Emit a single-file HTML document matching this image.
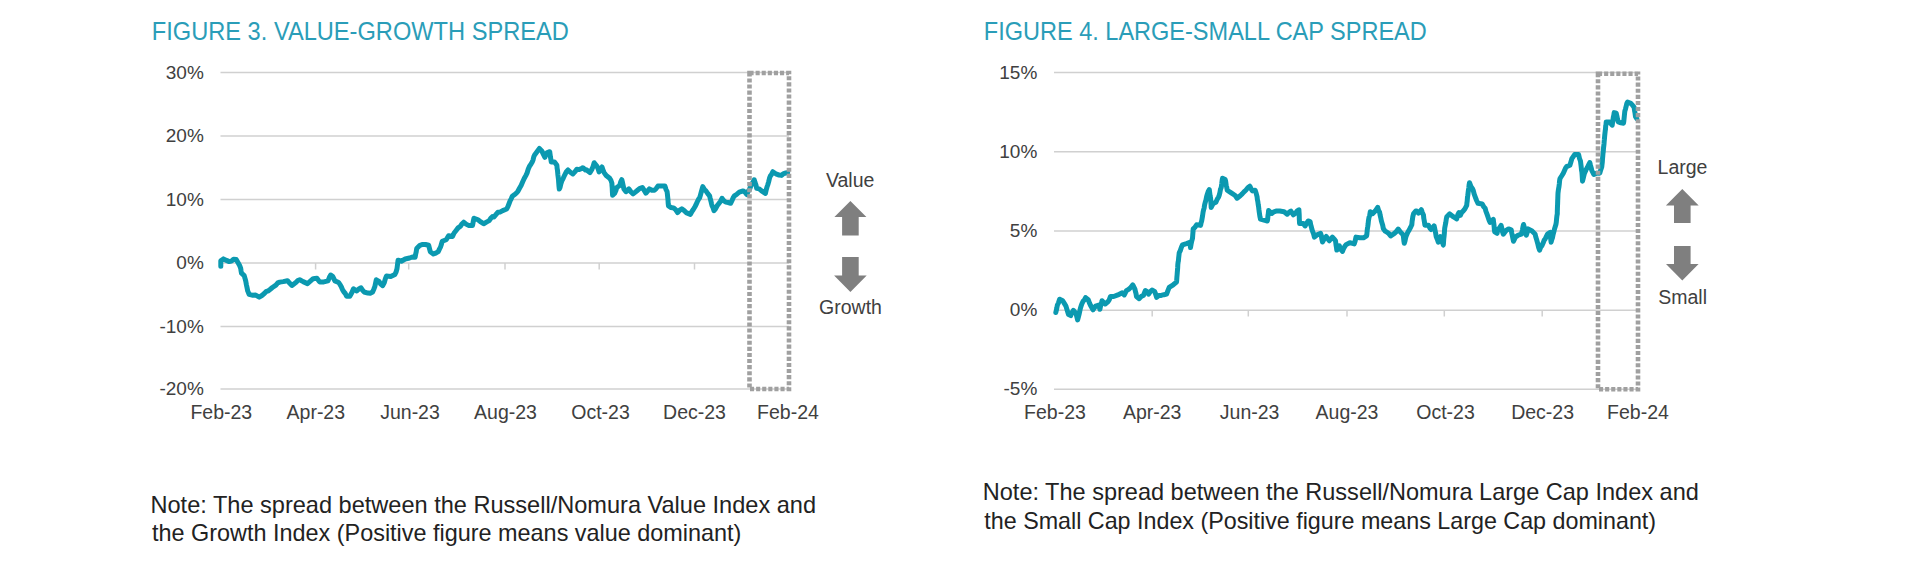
<!DOCTYPE html>
<html><head><meta charset="utf-8"><style>
html,body{margin:0;padding:0;background:#fff;width:1920px;height:565px;overflow:hidden}
svg{display:block}
text{font-family:"Liberation Sans",sans-serif}
</style></head><body>
<svg width="1920" height="565" viewBox="0 0 1920 565">
<rect width="1920" height="565" fill="#fff"/>

<text x="151.8" y="39.5" font-size="25" fill="#2a9db8" textLength="417" lengthAdjust="spacingAndGlyphs">FIGURE 3. VALUE-GROWTH SPREAD</text>
<text x="983.8" y="39.5" font-size="25" fill="#2a9db8" textLength="443" lengthAdjust="spacingAndGlyphs">FIGURE 4. LARGE-SMALL CAP SPREAD</text>
<line x1="220.5" y1="72.5" x2="789" y2="72.5" stroke="#d0d0d0" stroke-width="1.5"/>
<text x="203.8" y="78.6" font-size="19" fill="#404040" text-anchor="end">30%</text>
<line x1="220.5" y1="136" x2="789" y2="136" stroke="#d0d0d0" stroke-width="1.5"/>
<text x="203.8" y="142.1" font-size="19" fill="#404040" text-anchor="end">20%</text>
<line x1="220.5" y1="199.5" x2="789" y2="199.5" stroke="#d0d0d0" stroke-width="1.5"/>
<text x="203.8" y="205.6" font-size="19" fill="#404040" text-anchor="end">10%</text>
<line x1="220.5" y1="263" x2="789" y2="263" stroke="#d0d0d0" stroke-width="1.5"/>
<text x="203.8" y="269.1" font-size="19" fill="#404040" text-anchor="end">0%</text>
<line x1="220.5" y1="326.5" x2="789" y2="326.5" stroke="#d0d0d0" stroke-width="1.5"/>
<text x="203.8" y="332.6" font-size="19" fill="#404040" text-anchor="end">-10%</text>
<line x1="220.5" y1="389" x2="789" y2="389" stroke="#d0d0d0" stroke-width="1.5"/>
<text x="203.8" y="395.1" font-size="19" fill="#404040" text-anchor="end">-20%</text>
<line x1="315.6" y1="263" x2="315.6" y2="269.5" stroke="#d0d0d0" stroke-width="1.5"/>
<line x1="408.7" y1="263" x2="408.7" y2="269.5" stroke="#d0d0d0" stroke-width="1.5"/>
<line x1="505" y1="263" x2="505" y2="269.5" stroke="#d0d0d0" stroke-width="1.5"/>
<line x1="599.2" y1="263" x2="599.2" y2="269.5" stroke="#d0d0d0" stroke-width="1.5"/>
<line x1="694.5" y1="263" x2="694.5" y2="269.5" stroke="#d0d0d0" stroke-width="1.5"/>
<text x="221.3" y="419.3" font-size="19.5" fill="#404040" text-anchor="middle">Feb-23</text>
<text x="315.8" y="419.3" font-size="19.5" fill="#404040" text-anchor="middle">Apr-23</text>
<text x="410" y="419.3" font-size="19.5" fill="#404040" text-anchor="middle">Jun-23</text>
<text x="505.5" y="419.3" font-size="19.5" fill="#404040" text-anchor="middle">Aug-23</text>
<text x="600.5" y="419.3" font-size="19.5" fill="#404040" text-anchor="middle">Oct-23</text>
<text x="694.5" y="419.3" font-size="19.5" fill="#404040" text-anchor="middle">Dec-23</text>
<text x="788" y="419.3" font-size="19.5" fill="#404040" text-anchor="middle">Feb-24</text>
<line x1="1054" y1="72.5" x2="1638" y2="72.5" stroke="#d0d0d0" stroke-width="1.5"/>
<text x="1037.3" y="78.6" font-size="19" fill="#404040" text-anchor="end">15%</text>
<line x1="1054" y1="151.8" x2="1638" y2="151.8" stroke="#d0d0d0" stroke-width="1.5"/>
<text x="1037.3" y="157.9" font-size="19" fill="#404040" text-anchor="end">10%</text>
<line x1="1054" y1="231.1" x2="1638" y2="231.1" stroke="#d0d0d0" stroke-width="1.5"/>
<text x="1037.3" y="237.2" font-size="19" fill="#404040" text-anchor="end">5%</text>
<line x1="1054" y1="310.3" x2="1638" y2="310.3" stroke="#d0d0d0" stroke-width="1.5"/>
<text x="1037.3" y="316.40000000000003" font-size="19" fill="#404040" text-anchor="end">0%</text>
<line x1="1054" y1="389.3" x2="1638" y2="389.3" stroke="#d0d0d0" stroke-width="1.5"/>
<text x="1037.3" y="395.40000000000003" font-size="19" fill="#404040" text-anchor="end">-5%</text>
<line x1="1152.2" y1="310.3" x2="1152.2" y2="316.5" stroke="#d0d0d0" stroke-width="1.5"/>
<line x1="1248.3" y1="310.3" x2="1248.3" y2="316.5" stroke="#d0d0d0" stroke-width="1.5"/>
<line x1="1347" y1="310.3" x2="1347" y2="316.5" stroke="#d0d0d0" stroke-width="1.5"/>
<line x1="1444.3" y1="310.3" x2="1444.3" y2="316.5" stroke="#d0d0d0" stroke-width="1.5"/>
<line x1="1542.2" y1="310.3" x2="1542.2" y2="316.5" stroke="#d0d0d0" stroke-width="1.5"/>
<text x="1055" y="419.3" font-size="19.5" fill="#404040" text-anchor="middle">Feb-23</text>
<text x="1152.2" y="419.3" font-size="19.5" fill="#404040" text-anchor="middle">Apr-23</text>
<text x="1249.6" y="419.3" font-size="19.5" fill="#404040" text-anchor="middle">Jun-23</text>
<text x="1347" y="419.3" font-size="19.5" fill="#404040" text-anchor="middle">Aug-23</text>
<text x="1445.5" y="419.3" font-size="19.5" fill="#404040" text-anchor="middle">Oct-23</text>
<text x="1542.6" y="419.3" font-size="19.5" fill="#404040" text-anchor="middle">Dec-23</text>
<text x="1638" y="419.3" font-size="19.5" fill="#404040" text-anchor="middle">Feb-24</text>
<polyline points="220.8,266.2 220.8,263.2 220.8,260.8 223.4,258.9 226.5,260.4 229.2,261.6 231.4,261.1 233.6,259.3 236.2,259.5 238.5,263.5 239.6,265.4 240.7,268.4 241.1,271.0 241.5,273.2 244.2,275.7 245.3,279.4 245.8,281.4 246.4,284.7 247.1,287.9 247.7,290.9 249.1,294.3 252.2,295.2 255.7,295.1 259.2,297.1 261.9,295.5 264.0,293.8 266.0,291.7 268.1,290.9 270.3,289.2 272.4,287.5 275.9,285.1 277.8,282.9 279.8,282.1 283.2,281.6 287.5,280.7 290.0,283.6 291.9,285.5 293.9,284.0 295.8,282.6 297.8,280.5 299.7,279.7 303.1,281.6 307.5,283.6 310.9,280.7 313.2,278.7 316.9,278.2 319.6,281.9 323.8,281.9 328.0,280.9 329.4,277.3 330.7,275.0 332.8,276.6 334.9,280.9 338.7,282.5 340.0,284.5 341.3,286.7 342.6,289.9 344.0,292.0 345.3,293.5 346.6,296.3 349.8,296.3 351.9,292.5 353.5,288.8 356.7,291.0 358.8,288.9 361.0,287.8 362.5,290.1 364.1,292.0 367.9,293.1 370.2,293.3 372.6,292.0 373.7,289.5 374.8,286.7 375.6,283.1 376.3,279.8 379.0,281.4 380.9,284.3 382.7,285.6 384.3,282.5 385.4,278.6 386.4,276.1 390.7,276.6 394.9,274.5 396.0,272.2 397.0,268.7 397.4,265.5 397.8,262.4 398.1,260.2 401.3,261.2 405.2,259.0 409.6,258.0 412.3,257.0 415.1,257.2 415.7,254.0 416.2,251.9 416.7,248.5 419.9,245.3 422.7,244.4 425.5,244.5 428.7,245.3 429.5,248.6 430.3,251.7 433.4,254.0 435.8,253.1 438.2,251.7 439.4,249.1 440.6,246.9 441.4,244.2 442.2,241.3 446.2,239.7 448.6,235.7 452.5,236.5 454.1,233.0 455.7,231.0 458.1,227.9 460.5,226.2 462.1,223.7 463.7,222.2 466.1,224.1 468.5,225.4 472.5,225.4 473.0,222.9 473.5,220.3 474.0,218.2 478.0,219.8 480.8,221.9 483.6,223.8 486.4,222.1 489.2,220.6 490.8,218.3 492.4,216.6 494.0,217.0 496.3,214.2 498.0,212.2 500.4,211.9 502.7,210.6 506.7,209.0 507.9,206.6 509.1,203.5 510.2,200.7 511.2,198.8 512.3,196.3 514.3,194.8 516.3,193.1 517.9,191.3 519.5,188.3 521.1,185.5 522.6,182.0 524.2,178.5 525.8,175.6 527.0,173.2 528.2,169.2 529.5,166.2 530.9,164.3 532.2,162.1 533.0,160.1 533.8,156.7 534.6,154.9 537.0,151.7 539.4,148.5 541.8,150.9 543.3,154.1 544.9,157.3 546.1,154.2 547.3,152.5 549.7,151.7 550.1,154.6 550.5,157.3 550.9,159.6 551.3,162.1 554.5,162.1 556.9,165.3 557.1,168.2 557.4,169.7 557.7,172.7 557.9,175.0 558.2,177.3 558.5,179.6 558.7,182.7 559.0,186.5 559.3,189.1 560.1,187.2 560.9,183.8 561.7,181.2 563.2,178.3 564.8,174.8 566.4,171.7 568.0,170.0 570.4,172.3 572.8,174.0 574.8,171.9 576.8,169.2 579.2,169.6 581.6,168.4 582.8,167.7 585.5,170.0 586.4,169.8 589.9,172.6 592.0,169.1 593.1,166.4 594.2,162.7 597.0,166.2 598.1,168.7 599.1,171.9 600.5,169.3 602.0,167.0 603.0,170.1 604.1,172.6 606.2,175.5 609.7,178.3 610.8,180.0 611.9,183.2 612.0,185.6 612.2,187.5 612.3,189.9 612.4,192.2 612.6,195.3 614.7,193.2 615.8,190.8 616.8,187.5 619.7,185.4 620.7,181.9 621.8,179.7 622.5,182.4 623.2,185.7 623.9,188.9 626.0,191.7 628.9,188.9 631.0,192.0 633.1,193.9 636.7,191.0 639.5,188.6 642.3,187.5 644.1,190.2 645.9,193.2 647.6,191.1 649.4,188.9 651.9,190.2 654.4,190.3 656.1,188.7 657.9,186.1 662.2,186.1 665.0,186.1 666.0,189.5 667.1,191.7 667.4,194.2 667.7,197.3 668.0,200.0 668.2,203.7 668.5,205.9 671.1,207.6 673.6,207.9 675.6,209.6 677.6,212.5 679.7,210.2 681.8,208.9 683.9,210.3 686.1,212.6 690.4,214.4 691.9,211.5 693.3,209.5 694.8,207.0 696.0,204.8 697.2,202.0 698.5,199.3 699.7,197.7 700.5,194.8 701.3,191.9 702.0,189.5 702.8,186.6 704.4,189.5 705.9,190.9 707.8,193.7 709.6,195.9 710.2,198.4 710.9,201.0 711.5,203.6 712.1,205.8 713.0,207.5 714.0,210.7 715.5,208.9 717.1,205.8 718.7,203.7 720.4,201.4 722.0,198.3 723.9,200.7 725.7,202.1 728.2,202.5 730.7,203.3 731.9,200.7 733.2,197.7 734.4,195.9 736.9,194.2 739.3,192.2 743.1,190.9 744.9,192.1 746.8,194.6 748.0,191.5 749.3,189.7 750.5,186.7 751.7,184.2 753.0,182.2 754.2,179.8 755.0,182.4 755.9,184.8 756.7,188.4 759.2,188.9 761.6,190.9 765.4,193.4 766.2,189.9 767.0,187.0 767.8,184.7 768.7,181.6 769.5,178.2 770.3,176.1 771.5,174.5 772.8,171.7 776.5,174.2 779.0,175.0 781.5,175.4 783.6,173.6 785.8,173.0 787.6,172.6" fill="none" stroke="#0b99b0" stroke-width="5" stroke-linejoin="round" stroke-linecap="round"/>
<polyline points="1055.8,312.5 1056.4,309.9 1056.9,307.6 1057.4,305.0 1058.5,302.8 1059.6,299.2 1062.7,300.8 1064.3,303.4 1065.9,306.1 1066.8,308.9 1067.7,311.9 1068.6,314.6 1070.7,315.6 1072.0,312.5 1073.4,310.3 1076.0,313.5 1076.8,316.7 1077.6,319.9 1078.3,317.3 1079.0,314.7 1079.7,311.4 1080.4,308.3 1081.1,306.1 1081.8,304.0 1083.1,301.2 1084.3,300.2 1085.6,297.6 1088.2,299.7 1089.5,303.2 1090.9,306.1 1093.0,309.8 1095.6,306.1 1098.8,305.0 1099.9,309.3 1100.6,305.7 1101.3,304.4 1102.0,300.8 1105.2,304.0 1107.9,301.8 1109.2,299.9 1110.5,296.5 1113.7,296.5 1117.9,294.9 1122.2,292.8 1124.3,294.9 1126.4,290.7 1128.6,289.4 1130.7,287.5 1132.8,284.9 1134.9,289.1 1135.5,291.8 1136.0,293.5 1136.5,296.5 1139.2,298.7 1141.3,296.3 1143.4,295.5 1144.4,293.0 1145.4,290.5 1147.0,291.6 1148.6,294.1 1150.3,291.6 1152.0,290.1 1154.6,291.4 1155.6,294.0 1156.6,297.4 1158.9,295.6 1161.2,295.4 1163.9,294.7 1166.6,294.1 1167.9,290.6 1169.2,287.4 1173.2,284.8 1176.5,282.1 1176.7,280.2 1176.9,277.2 1177.1,274.9 1177.3,272.2 1177.5,270.0 1177.7,267.2 1177.8,264.8 1178.1,262.1 1178.4,260.9 1178.6,258.5 1178.9,255.8 1179.2,252.9 1180.3,250.6 1181.4,247.3 1182.5,244.9 1186.5,243.6 1189.8,242.3 1190.1,244.5 1190.5,247.6 1191.1,244.1 1191.8,240.7 1192.5,238.3 1192.7,235.6 1193.0,231.8 1193.2,228.9 1194.9,227.4 1196.6,224.8 1200.6,225.4 1201.1,222.8 1201.6,221.2 1202.1,218.5 1202.6,215.5 1203.1,212.0 1203.6,209.7 1204.1,208.2 1204.6,204.8 1205.3,202.1 1205.9,200.3 1206.6,196.7 1207.3,194.2 1208.3,191.2 1209.3,189.6 1209.7,192.7 1210.1,195.8 1210.6,198.2 1210.8,200.9 1211.0,203.7 1211.2,207.5 1213.2,203.5 1215.9,202.2 1217.2,199.3 1218.6,196.9 1219.2,195.3 1219.9,192.6 1220.5,189.3 1221.2,187.6 1221.7,184.1 1222.1,180.7 1222.5,178.3 1225.2,179.6 1225.7,181.6 1226.2,185.4 1226.7,187.1 1227.2,190.2 1231.2,192.9 1235.2,195.5 1237.1,198.2 1240.5,195.5 1242.2,193.9 1244.0,191.9 1245.8,190.2 1247.8,187.7 1249.8,186.2 1251.1,188.9 1252.4,190.9 1255.1,190.2 1256.1,193.0 1257.1,196.9 1257.4,199.7 1257.8,201.4 1258.2,204.5 1258.6,206.7 1258.9,209.4 1259.3,212.3 1259.9,216.5 1260.5,219.1 1264.9,220.4 1267.3,221.0 1267.7,218.8 1268.0,215.4 1268.3,213.7 1268.6,210.4 1271.7,213.5 1273.9,211.8 1276.0,211.1 1279.7,211.1 1284.1,211.7 1287.2,214.2 1289.0,212.4 1290.9,211.1 1293.4,214.8 1295.2,213.5 1297.1,211.1 1298.9,209.8 1299.1,212.8 1299.2,214.6 1299.3,218.8 1299.4,220.3 1299.6,223.5 1303.3,223.5 1305.1,225.9 1306.7,223.1 1308.2,221.0 1310.1,221.6 1310.7,224.7 1311.3,226.7 1312.0,229.7 1312.8,231.8 1313.6,233.9 1314.4,237.1 1317.5,234.6 1320.6,233.4 1321.3,235.6 1321.9,239.3 1322.5,242.0 1324.3,238.8 1326.2,236.5 1327.8,238.8 1329.3,240.8 1330.9,238.8 1332.4,237.1 1334.0,238.9 1335.5,240.8 1336.0,244.7 1336.4,247.0 1336.8,250.1 1338.0,248.1 1339.3,245.8 1340.8,249.2 1342.4,251.4 1343.6,248.6 1344.9,246.3 1346.1,244.6 1349.8,242.7 1354.2,243.9 1355.1,241.2 1356.0,237.1 1359.7,237.8 1363.5,237.8 1366.6,235.9 1366.9,233.9 1367.2,230.5 1367.5,228.0 1367.8,226.4 1368.1,224.2 1368.4,221.0 1369.0,217.4 1369.7,215.5 1370.3,211.7 1372.8,213.6 1375.2,211.1 1377.7,207.4 1378.6,210.5 1379.6,212.3 1380.2,215.4 1380.8,218.0 1381.4,221.0 1382.0,222.9 1382.7,225.2 1383.3,228.5 1385.1,231.1 1387.0,232.2 1388.9,233.6 1390.7,235.9 1394.4,233.4 1396.3,231.6 1398.2,229.1 1400.6,232.2 1403.1,234.7 1403.5,237.2 1403.9,241.0 1404.3,243.3 1405.0,241.0 1405.6,238.0 1406.2,235.9 1407.8,232.3 1409.3,229.7 1410.5,227.6 1411.8,224.7 1412.1,221.4 1412.5,219.0 1412.8,216.7 1413.6,213.6 1415.7,211.1 1416.7,211.1 1418.5,213.2 1421.3,209.7 1422.4,212.6 1423.5,215.3 1423.8,218.4 1424.2,220.5 1424.5,222.4 1424.9,225.2 1428.4,225.2 1429.8,228.0 1431.2,229.5 1434.1,225.9 1434.6,228.1 1435.1,230.5 1435.7,233.5 1436.2,236.6 1437.3,239.3 1438.3,242.2 1439.4,238.7 1440.5,236.6 1441.4,238.9 1442.3,242.0 1443.3,245.1 1443.5,242.8 1443.7,239.6 1443.9,237.6 1444.1,236.0 1444.3,233.7 1444.5,230.8 1444.7,228.1 1445.2,225.5 1445.8,222.5 1446.3,219.0 1446.8,216.7 1449.7,213.9 1453.2,216.7 1456.7,218.9 1457.8,214.9 1458.9,212.5 1460.3,215.3 1461.7,212.4 1463.1,211.1 1464.9,208.9 1466.7,205.4 1466.9,203.2 1467.2,201.1 1467.5,197.0 1467.8,195.4 1468.1,192.7 1468.4,190.2 1468.8,188.1 1469.1,184.9 1469.5,182.7 1470.9,186.4 1472.3,188.4 1473.3,190.6 1474.2,194.2 1475.2,196.9 1476.6,200.5 1478.0,203.3 1482.2,204.0 1483.7,206.8 1485.1,208.2 1486.0,211.5 1487.0,214.2 1487.9,216.7 1489.0,220.0 1490.0,222.4 1493.3,219.4 1493.6,222.5 1493.9,224.2 1494.2,227.2 1494.4,230.1 1494.7,231.9 1497.1,233.3 1497.8,229.5 1499.4,228.0 1501.1,225.4 1501.8,228.2 1502.5,231.7 1503.3,234.2 1505.9,230.7 1508.6,228.9 1511.2,229.8 1511.8,233.2 1512.3,235.6 1512.9,238.6 1513.5,241.3 1514.6,238.9 1515.7,236.9 1518.3,235.1 1521.4,234.2 1522.0,231.9 1522.5,229.5 1523.1,226.2 1523.6,224.5 1524.3,227.3 1525.0,230.6 1525.6,233.0 1526.3,235.1 1527.2,232.4 1528.1,228.9 1531.6,230.7 1533.4,232.3 1535.1,234.2 1535.8,237.0 1536.5,239.2 1537.1,241.4 1537.8,243.9 1538.7,247.6 1539.6,250.1 1540.7,247.1 1541.9,245.8 1543.1,243.1 1544.2,240.1 1545.3,238.8 1546.4,236.4 1547.5,234.2 1550.2,232.4 1550.4,234.4 1550.6,237.6 1550.8,239.7 1551.1,242.2 1551.7,239.9 1552.4,238.0 1553.1,234.5 1553.7,232.4 1554.5,229.0 1555.2,226.8 1555.9,224.5 1556.3,222.1 1556.6,218.7 1556.9,216.0 1557.3,213.8 1557.3,211.9 1557.4,208.9 1557.5,206.0 1557.6,204.1 1557.7,200.6 1557.8,198.6 1557.9,195.2 1558.0,193.1 1558.3,190.6 1558.6,188.7 1559.0,186.5 1559.3,184.0 1559.6,180.8 1560.0,178.5 1561.6,176.0 1563.3,173.2 1564.4,170.7 1565.5,168.2 1566.6,166.6 1569.9,165.2 1570.9,161.9 1571.9,158.6 1574.6,154.6 1578.6,154.6 1579.5,158.5 1580.5,161.2 1580.9,164.5 1581.2,166.9 1581.5,169.9 1581.9,171.9 1582.1,174.6 1582.3,177.5 1582.5,181.2 1583.2,178.4 1583.9,175.5 1584.5,173.2 1585.9,170.1 1587.2,167.8 1588.5,165.2 1589.8,162.6 1590.5,165.4 1591.2,167.9 1591.8,170.5 1593.8,174.5 1596.5,173.2 1599.8,173.2 1600.8,169.6 1601.8,166.6 1602.0,164.6 1602.3,162.3 1602.5,158.9 1602.8,155.8 1603.0,153.2 1603.2,152.0 1603.5,148.2 1603.7,146.7 1604.0,144.0 1604.2,141.1 1604.4,139.3 1604.7,135.6 1604.9,133.8 1605.2,130.9 1605.5,129.0 1605.7,125.9 1606.0,124.8 1606.2,121.9 1609.6,121.9 1612.2,125.2 1612.6,122.2 1613.0,119.6 1613.4,116.9 1613.8,115.3 1614.2,112.6 1616.2,113.2 1616.9,116.0 1617.5,119.2 1618.2,121.9 1620.9,122.8 1623.5,123.2 1623.8,121.3 1624.0,119.2 1624.3,116.3 1624.6,113.2 1624.8,111.2 1625.5,108.9 1626.2,106.1 1626.8,103.5 1627.5,102.0 1630.8,103.3 1632.5,105.2 1634.1,107.3 1634.6,110.7 1635.0,112.9 1635.5,116.6 1636.8,118.6" fill="none" stroke="#0b99b0" stroke-width="5" stroke-linejoin="round" stroke-linecap="round"/>
<rect x="749.5" y="73" width="39.5" height="316" fill="none" stroke="#a0a0a0" stroke-width="4.6" stroke-dasharray="4.1 2.0"/>
<rect x="1598" y="73.8" width="40" height="315.5" fill="none" stroke="#a0a0a0" stroke-width="4.6" stroke-dasharray="4.1 2.0"/>
<polygon points="850.4,201 866.4,217 858.6999999999999,217 858.6999999999999,235.5 842.1,235.5 842.1,217 834.4,217" fill="#7f7f7f"/>
<polygon points="842.1,257 858.6999999999999,257 858.6999999999999,275.5 866.6999999999999,275.5 850.4,292 834.1,275.5 842.1,275.5" fill="#7f7f7f"/>
<text x="850.2" y="186.6" font-size="19.5" fill="#404040" text-anchor="middle">Value</text>
<text x="850.5" y="313.5" font-size="19.5" fill="#404040" text-anchor="middle">Growth</text>
<polygon points="1682.3,189 1698.7,205.5 1690.6,205.5 1690.6,223 1674.0,223 1674.0,205.5 1665.8999999999999,205.5" fill="#7f7f7f"/>
<polygon points="1674.0,246 1690.6,246 1690.6,264 1698.6,264 1682.3,280.6 1666.0,264 1674.0,264" fill="#7f7f7f"/>
<text x="1682.5" y="174.1" font-size="19.5" fill="#404040" text-anchor="middle">Large</text>
<text x="1682.6" y="304.3" font-size="19.5" fill="#404040" text-anchor="middle">Small</text>
<text x="150.5" y="512.6" font-size="24" fill="#222222" textLength="665.5" lengthAdjust="spacingAndGlyphs">Note: The spread between the Russell/Nomura Value Index and</text>
<text x="152" y="540.8" font-size="24" fill="#222222" textLength="589.4" lengthAdjust="spacingAndGlyphs">the Growth Index (Positive figure means value dominant)</text>
<text x="982.8" y="499.7" font-size="24" fill="#222222" textLength="716" lengthAdjust="spacingAndGlyphs">Note: The spread between the Russell/Nomura Large Cap Index and</text>
<text x="984.3" y="528.5" font-size="24" fill="#222222" textLength="671.8" lengthAdjust="spacingAndGlyphs">the Small Cap Index (Positive figure means Large Cap dominant)</text>
</svg></body></html>
